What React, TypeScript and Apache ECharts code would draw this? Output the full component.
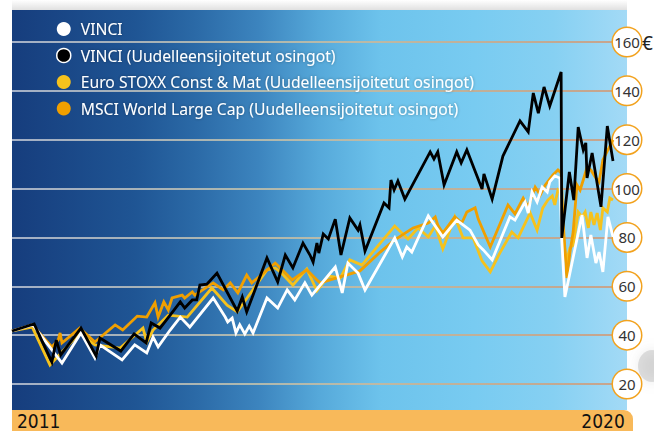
import React, { useEffect, useRef } from 'react';
import * as echarts from 'echarts';

// ---- data ----
const seriesNames = [
  'VINCI',
  'VINCI (Uudelleensijoitetut osingot)',
  'Euro STOXX Const & Mat (Uudelleensijoitetut osingot)',
  'MSCI World Large Cap (Uudelleensijoitetut osingot)',
];
const seriesColors = ['#ffffff', '#000000', '#f6c21c', '#f09f00'];
const yTicks = [20, 40, 60, 80, 100, 120, 140, 160];
const xLabels = [2011, 2020];
const xRange = [2011, 2020.5];
const unitLabel = '€';

const vinci: number[][] = [
  [2011.0, 41.7], [2011.33, 44.2], [2011.57, 36.0], [2011.79, 28.6], [2012.09, 40.9], [2012.31, 30.7],
  [2012.39, 36.0], [2012.74, 29.9], [2012.94, 36.0], [2013.13, 32.7], [2013.23, 39.2], [2013.31, 35.2],
  [2013.5, 42.1], [2013.66, 47.4], [2013.81, 43.3], [2014.18, 55.2], [2014.37, 47.4], [2014.41, 45.4],
  [2014.48, 47.0], [2014.54, 40.9], [2014.6, 44.2], [2014.68, 40.5], [2014.75, 43.7], [2014.81, 40.9],
  [2015.03, 55.2], [2015.2, 51.1], [2015.35, 58.5], [2015.47, 54.4], [2015.63, 61.4], [2015.74, 56.4],
  [2016.11, 67.9], [2016.22, 57.3], [2016.31, 69.5], [2016.47, 65.4], [2016.58, 58.5], [2017.05, 79.8],
  [2017.17, 72.0], [2017.24, 76.1], [2017.32, 74.0], [2017.58, 88.8], [2017.81, 80.2], [2018.03, 87.1],
  [2018.24, 83.0], [2018.37, 76.9], [2018.45, 74.9], [2018.59, 70.8], [2018.87, 88.4], [2018.95, 87.1],
  [2019.11, 94.5], [2019.16, 90.0], [2019.22, 98.6], [2019.3, 94.5], [2019.38, 100.6], [2019.46, 98.6],
  [2019.5, 102.7], [2019.58, 105.2], [2019.66, 104.3], [2019.69, 79.0], [2019.74, 55.6], [2020.01, 89.2],
  [2020.09, 71.6], [2020.15, 81.0], [2020.23, 69.5], [2020.28, 74.0], [2020.34, 65.9], [2020.42, 88.4],
  [2020.5, 80.2],
];

const vinciReinvested: number[][] = [
  [2011.0, 41.7], [2011.35, 44.6], [2011.63, 29.0], [2011.7, 38.0], [2011.77, 31.9], [2012.09, 42.9],
  [2012.33, 31.5], [2012.39, 38.8], [2012.72, 33.5], [2012.93, 40.5], [2013.12, 36.8], [2013.2, 45.0],
  [2013.34, 42.9], [2013.5, 48.2], [2013.66, 53.6], [2013.73, 51.1], [2013.85, 54.4], [2013.92, 54.4],
  [2013.97, 60.5], [2014.08, 60.9], [2014.24, 65.4], [2014.56, 49.9], [2014.64, 55.6], [2014.71, 49.5],
  [2015.03, 71.6], [2015.2, 61.8], [2015.32, 72.8], [2015.44, 67.5], [2015.6, 77.7], [2015.71, 72.8],
  [2015.76, 69.9], [2015.82, 77.7], [2015.85, 73.6], [2015.92, 81.4], [2016.0, 79.4], [2016.11, 87.5],
  [2016.2, 72.8], [2016.34, 88.0], [2016.47, 83.0], [2016.5, 85.1], [2016.58, 74.4], [2016.88, 94.1],
  [2016.96, 92.1], [2016.99, 103.5], [2017.04, 99.4], [2017.1, 103.1], [2017.21, 95.7], [2017.61, 115.0],
  [2017.67, 112.1], [2017.73, 115.0], [2017.83, 101.5], [2018.03, 115.0], [2018.1, 110.5], [2018.19, 115.8],
  [2018.43, 99.8], [2018.46, 106.0], [2018.59, 95.7], [2018.76, 113.3], [2019.03, 127.7], [2019.16, 123.2],
  [2019.24, 139.1], [2019.32, 130.9], [2019.41, 141.6], [2019.5, 133.8], [2019.68, 147.7], [2019.69, 79.8],
  [2019.81, 106.8], [2019.88, 95.3], [2019.95, 125.2], [2020.03, 115.8], [2020.07, 118.7], [2020.09, 104.3],
  [2020.17, 114.6], [2020.31, 92.5], [2020.41, 125.6], [2020.5, 111.3],
];

const euroStoxx: number[][] = [
  [2011.0, 41.7], [2011.32, 43.3], [2011.6, 27.8], [2012.07, 40.9], [2012.31, 36.0], [2012.71, 34.7],
  [2013.07, 42.9], [2013.13, 37.2], [2013.23, 42.1], [2013.47, 48.2], [2013.77, 47.4], [2014.16, 59.3],
  [2014.4, 52.3], [2014.56, 49.5], [2015.03, 66.7], [2015.16, 67.5], [2015.24, 65.9], [2015.44, 60.5],
  [2015.66, 67.1], [2015.82, 58.1], [2016.0, 64.2], [2016.19, 63.4], [2016.34, 70.8], [2016.53, 68.7],
  [2017.05, 84.7], [2017.26, 79.4], [2017.42, 83.9], [2017.58, 80.2], [2017.69, 84.7], [2017.81, 75.3],
  [2018.0, 88.4], [2018.13, 79.8], [2018.29, 79.8], [2018.43, 70.4], [2018.56, 65.9], [2018.71, 73.6],
  [2018.9, 82.2], [2019.0, 79.8], [2019.19, 90.0], [2019.3, 83.0], [2019.39, 92.1], [2019.47, 95.3],
  [2019.54, 97.0], [2019.58, 93.3], [2019.63, 99.4], [2019.68, 98.2], [2019.71, 81.8], [2019.76, 69.9],
  [2019.82, 75.7], [2019.87, 76.9], [2019.95, 90.4], [2020.01, 88.4], [2020.06, 90.4], [2020.11, 83.9],
  [2020.15, 90.4], [2020.2, 85.1], [2020.25, 90.0], [2020.3, 83.0], [2020.34, 92.1], [2020.41, 90.4],
  [2020.45, 96.1], [2020.5, 95.3],
];

const msciWorld: number[][] = [
  [2011.0, 41.7], [2011.32, 44.2], [2011.63, 35.2], [2011.73, 38.0], [2011.76, 40.9], [2011.79, 36.8],
  [2012.07, 42.9], [2012.31, 37.2], [2012.63, 44.2], [2012.75, 42.1], [2012.98, 47.8], [2013.13, 47.4],
  [2013.26, 53.2], [2013.31, 47.4], [2013.4, 53.6], [2013.47, 50.3], [2013.53, 55.2], [2013.69, 56.4],
  [2013.73, 55.2], [2013.85, 57.7], [2013.89, 56.4], [2014.18, 61.4], [2014.34, 58.5], [2014.45, 61.4],
  [2014.57, 57.3], [2014.71, 64.6], [2014.79, 61.4], [2015.16, 69.5], [2015.21, 68.3], [2015.43, 62.6],
  [2015.66, 66.7], [2015.82, 62.6], [2015.87, 61.4], [2016.5, 66.3], [2016.82, 74.0], [2017.05, 79.0],
  [2017.34, 83.9], [2017.58, 85.9], [2017.69, 88.4], [2017.73, 85.1], [2017.81, 81.8], [2018.0, 88.4],
  [2018.11, 85.9], [2018.19, 90.4], [2018.32, 92.1], [2018.37, 87.5], [2018.56, 76.1], [2018.84, 93.3],
  [2018.95, 89.6], [2019.08, 96.1], [2019.16, 92.5], [2019.27, 100.6], [2019.35, 97.4], [2019.43, 101.5],
  [2019.55, 105.6], [2019.63, 107.6], [2019.68, 106.4], [2019.71, 87.1], [2019.77, 63.4], [2019.82, 74.0],
  [2019.87, 82.2], [2019.93, 101.5], [2019.98, 99.4], [2020.03, 103.5], [2020.09, 108.8], [2020.15, 107.6],
  [2020.22, 104.7], [2020.28, 102.7], [2020.34, 111.7], [2020.42, 115.8], [2020.5, 119.9],
];

const seriesData = [vinci, vinciReinvested, euroStoxx, msciWorld];

export default function App() {
  const ref = useRef<HTMLDivElement>(null);

  useEffect(() => {
    if (!ref.current) return;
    const chart = echarts.init(ref.current, undefined, { renderer: 'svg' });

    const bgGradient = new echarts.graphic.LinearGradient(0, 0, 1, 0, [
      { offset: 0, color: '#163d7d' },
      { offset: 0.2, color: '#1f5594' },
      { offset: 0.3, color: '#2b6aa7' },
      { offset: 0.4, color: '#3c84be' },
      { offset: 0.5, color: '#56a9da' },
      { offset: 0.6, color: '#6dc3ec' },
      { offset: 0.75, color: '#78cbf1' },
      { offset: 0.88, color: '#86d0f2' },
      { offset: 1, color: '#a3daf6' },
    ]);

    const gridGradient = new echarts.graphic.LinearGradient(12, 0, 613, 0, [
      { offset: 0, color: '#d3d7e0' },
      { offset: 0.4, color: '#d6cbaa' },
      { offset: 0.7, color: '#d9ac80' },
      { offset: 1, color: '#d6936a' },
    ], true);

    // draw order: yellow, orange, white, black (legend keeps original order)
    const drawOrder = [2, 3, 0, 1];

    chart.setOption({
      animation: false,
      grid: { left: 12, right: 41, top: 42, bottom: 47 },
      graphic: [
        {
          type: 'rect',
          z: -10,
          shape: { x: 12, y: 10, width: 615, height: 400 },
          style: { fill: bgGradient },
        },
        {
          type: 'rect',
          z: -10,
          shape: { x: 12, y: 0, width: 615, height: 10 },
          style: {
            fill: new echarts.graphic.LinearGradient(0, 0, 0, 1, [
              { offset: 0, color: 'rgba(0,0,0,0)' },
              { offset: 1, color: 'rgba(0,0,0,0.12)' },
            ]),
          },
        },
        {
          type: 'ellipse',
          z: -10,
          shape: { cx: 652, cy: 366, rx: 14, ry: 16 },
          style: { fill: 'rgba(170,170,170,0.35)', shadowBlur: 12, shadowColor: 'rgba(140,140,140,0.5)' },
        },
        {
          type: 'rect',
          z: -10,
          shape: { x: 12, y: 410, width: 621, height: 21, r: [0, 9, 0, 0] },
          style: { fill: '#f8b95a' },
        },
        {
          type: 'text',
          z: 10,
          x: 642,
          y: 43,
          style: {
            text: unitLabel,
            fontSize: 19,
            fontFamily: 'Noto Sans',
            fill: '#222222',
            align: 'left',
            verticalAlign: 'middle',
          },
        },
      ],
      legend: {
        orient: 'vertical',
        left: 51,
        top: 16,
        itemWidth: 24,
        itemHeight: 14,
        itemGap: 10.5,
        icon: 'circle',
        selectedMode: false,
        itemStyle: { borderWidth: 0 },
        textStyle: {
          color: '#ffffff',
          fontSize: 15.7,
          lineHeight: 16,
          fontFamily: 'Noto Sans',
          textShadowColor: 'rgba(0,0,0,0.35)',
          textShadowBlur: 3,
        },
        data: seriesNames.map((name, i) => ({
          name,
          itemStyle: i === 1 ? { borderColor: '#ffffff', borderWidth: 1.5 } : { borderWidth: 0 },
        })),
      },
      xAxis: {
        type: 'value',
        min: xRange[0],
        max: xRange[1],
        axisLine: { show: false },
        axisTick: { show: false },
        splitLine: { show: false },
        axisLabel: {
          customValues: xLabels,
          align: 'left',
          margin: 27,
          fontSize: 19,
          lineHeight: 19,
          color: '#111111',
          fontFamily: "'DejaVu Sans Condensed', 'Noto Sans'",
          formatter: (v: number) => (v === xLabels[0] ? '{a|' + v + '}' : '{b|' + v + '}'),
          rich: {
            a: { padding: [0, 0, 0, 5], fontSize: 19, fontFamily: "'DejaVu Sans Condensed', 'Noto Sans'", color: '#111111' },
            b: { fontSize: 19, fontFamily: "'DejaVu Sans Condensed', 'Noto Sans'", color: '#111111' },
          },
        },
      },
      yAxis: {
        type: 'value',
        position: 'right',
        min: yTicks[0],
        max: yTicks[yTicks.length - 1],
        interval: yTicks[1] - yTicks[0],
        axisLine: { show: false },
        axisTick: { show: false },
        splitLine: { show: true, lineStyle: { color: gridGradient, width: 1.5 } },
        axisLabel: {
          margin: 14,
          align: 'center',
          verticalAlign: 'middle',
          width: 28,
          height: 28,
          lineHeight: 28,
          backgroundColor: '#ffffff',
          borderColor: '#f2a21e',
          borderWidth: 1.5,
          borderRadius: 14,
          fontSize: 15,
          color: '#333333',
          fontFamily: 'Noto Sans',
        },
      },
      series: drawOrder.map((i) => ({
        name: seriesNames[i],
        type: 'line',
        data: seriesData[i],
        symbol: 'none',
        showSymbol: false,
        color: seriesColors[i],
        lineStyle: { color: seriesColors[i], width: 2.8, join: 'miter' },
        z: 2 + drawOrder.indexOf(i),
      })),
    });

    return () => chart.dispose();
  }, []);

  return (
    <div
      ref={ref}
      style={{ position: 'fixed', left: 0, top: 0, width: 654, height: 431, background: '#ffffff' }}
    />
  );
}
